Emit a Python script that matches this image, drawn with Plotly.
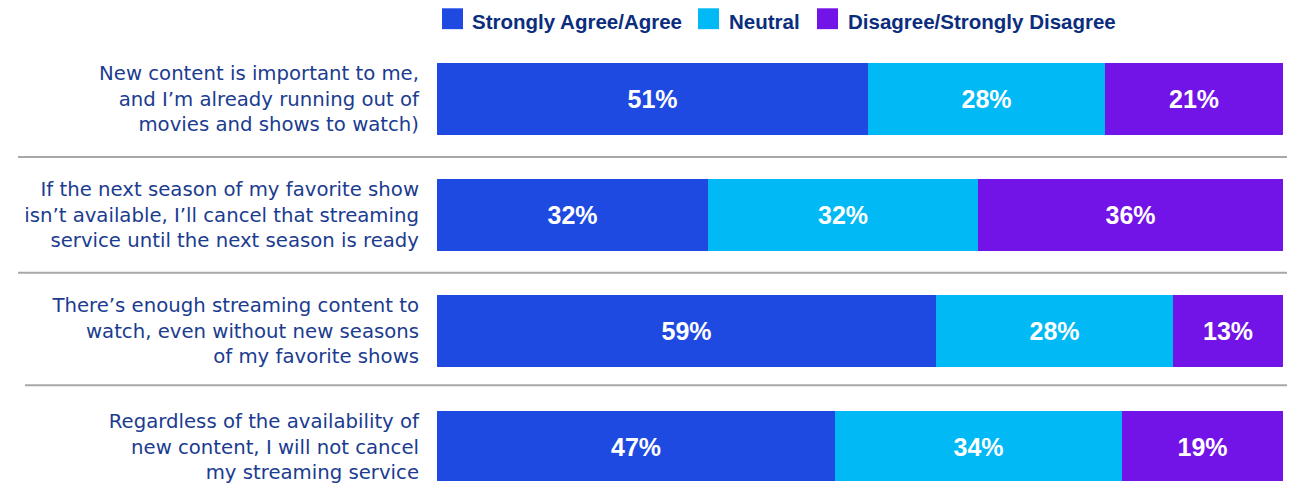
import plotly.graph_objects as go

categories = [
    "New content is important to me,<br>and I’m already running out of<br>movies and shows to watch)",
    "If the next season of my favorite show<br>isn’t available, I’ll cancel that streaming<br>service until the next season is ready",
    "There’s enough streaming content to<br>watch, even without new seasons<br>of my favorite shows",
    "Regardless of the availability of<br>new content, I will not cancel<br>my streaming service",
]
series_names = ["Strongly Agree/Agree", "Neutral", "Disagree/Strongly Disagree"]
agree = [51, 32, 59, 47]
neutral = [28, 32, 28, 34]
disagree = [21, 36, 13, 19]
colors = ["#1F4AE1", "#00B9F5", "#7214E8"]

W, H = 1291, 484
L, R, T, B = 437, 8, 50, 0
row_px = 116.7
first_center_px = 99.3
plot_w = W - L - R
plot_h = H - T - B

def px_x(p):
    return (p - L) / plot_w

def px_y(p):
    return 1 + (T - p) / plot_h

ypos = list(range(len(categories)))
fig = go.Figure()
for name, vals, col in zip(series_names, [agree, neutral, disagree], colors):
    fig.add_trace(go.Bar(
        y=ypos, x=vals, name=name, orientation="h",
        marker=dict(color=col, line=dict(width=0)),
        width=0.617,
        text=[f"{v}%" for v in vals],
        textposition="inside", insidetextanchor="middle",
        textangle=0,
        textfont=dict(family="Arial, Liberation Sans, sans-serif", size=25, color="white", weight="bold"),
        hoverinfo="skip", showlegend=False,
    ))

y_top = -(first_center_px - T) / row_px
y_bot = y_top + plot_h / row_px

fig.update_layout(
    barmode="stack",
    width=W, height=H,
    margin=dict(l=L, r=R, t=T, b=B, pad=0),
    paper_bgcolor="white", plot_bgcolor="white",
    bargap=0,
    showlegend=False,
    xaxis=dict(range=[0, 100], visible=False, fixedrange=True),
    yaxis=dict(
        range=[y_bot, y_top], tickmode="array", tickvals=ypos, ticktext=categories,
        showgrid=False, zeroline=False, showline=False, ticks="",
        ticklabelstandoff=17, ticklabeloverflow="allow",
        tickfont=dict(family="DejaVu Sans, sans-serif", size=19.7, color="#1B3C8F"),
    ),
)

# legend (drawn as swatches + labels, matching the reference's large square keys)
legend_swatch_px = [442, 698, 817]
legend_text_px = [470, 727, 846]
for name, col, sx, tx in zip(series_names, colors, legend_swatch_px, legend_text_px):
    fig.add_shape(type="rect", xref="paper", yref="paper",
                  x0=px_x(sx), x1=px_x(sx + 21), y0=px_y(29), y1=px_y(8),
                  fillcolor=col, line=dict(width=0))
    fig.add_annotation(xref="paper", yref="paper", x=px_x(tx), y=px_y(21.5),
                       xanchor="left", yanchor="middle", showarrow=False, text=name,
                       font=dict(family="Arial, Liberation Sans, sans-serif", size=20.5,
                                 color="#0B2D7E", weight="bold"))

sep_y = [0.5, 1.5, 2.47]
sep_x0_px = [18, 18, 25]
for yv, x0 in zip(sep_y, sep_x0_px):
    fig.add_shape(type="line", xref="paper", yref="y",
                  x0=px_x(x0), x1=px_x(1287), y0=yv, y1=yv,
                  line=dict(color="#A8A8A8", width=2), layer="above")

fig.write_html("out.html")
